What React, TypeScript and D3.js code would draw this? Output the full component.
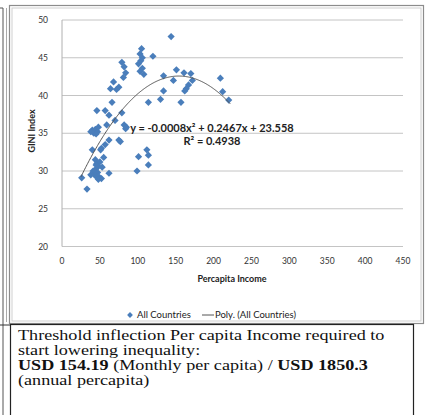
import React from "react";
import * as d3 from "d3";

const W = 426;
const H = 415;

// Scatter data: [Percapita Income, GINI Index]
const incomes: number[] = [
  144, 105, 103, 120, 106, 79, 82, 101, 104, 106, 108, 84, 81, 103,
  151, 161, 170, 134, 147, 172, 167, 164, 162, 209, 212, 220,
  134, 130, 114, 157, 68, 75, 64, 72, 66, 57, 62, 46, 79, 70, 59, 82, 84, 85,
  40, 44, 47, 42, 48, 45, 38,
  75, 77, 62, 57, 52, 40, 51, 55,
  101, 112, 114, 114, 99,
  44, 46, 48, 50, 44, 47, 43, 49, 52, 45, 41, 53,
  26, 33, 62, 46, 48, 38,
];
const ginis: number[] = [
  47.8, 46.2, 45.5, 45.2, 45.0, 44.4, 43.8, 44.2, 44.6, 43.6, 42.8, 43.0, 42.4, 43.2,
  43.4, 43.0, 42.9, 42.6, 42.0, 42.0, 41.4, 40.9, 40.6, 42.3, 40.5, 39.4,
  40.6, 39.5, 39.1, 39.1, 41.8, 41.1, 40.9, 40.8, 39.1, 38.0, 37.4, 38.0, 37.7, 36.7, 36.1, 36.1, 35.6, 35.8,
  35.4, 35.5, 35.2, 35.0, 35.8, 34.9, 35.2,
  34.1, 33.9, 34.1, 33.5, 33.0, 32.8, 32.8, 31.8,
  31.9, 32.8, 32.1, 30.8, 30.0,
  31.5, 31.0, 30.6, 31.2, 30.2, 29.8, 29.5, 29.2, 29.0, 30.8, 30.0, 30.5,
  29.1, 27.6, 29.7, 29.2, 28.9, 29.5,
];

// Polynomial trendline coefficients (a x^2 + b x + c) and range
const polyCoef: number[] = [-0.0008, 0.2467, 23.558];
const trendRange: number[] = [25, 222];

const xTicks: number[] = [0, 50, 100, 150, 200, 250, 300, 350, 400, 450];
const yTicks: number[] = [20, 25, 30, 35, 40, 45, 50];

const textLines: { parts: { t: string; b: boolean }[] }[] = [
  { parts: [{ t: "Threshold inflection Per capita Income required to", b: false }] },
  { parts: [{ t: "start lowering inequality:", b: false }] },
  {
    parts: [
      { t: "USD 154.19", b: true },
      { t: " (Monthly per capita) / ", b: false },
      { t: "USD 1850.3", b: true },
    ],
  },
  { parts: [{ t: "(annual percapita)", b: false }] },
];

const sans = "Lato, 'Open Sans', sans-serif";
const serif = "'Liberation Serif', 'Times New Roman', serif";

export default function App() {
  const x = d3.scaleLinear().domain([0, 450]).range([62, 403]);
  const y = d3.scaleLinear().domain([20, 50]).range([246.5, 20]);

  const points = incomes.map((v, i) => [v, ginis[i]] as [number, number]);
  const diamond = d3.symbol().type(d3.symbolSquare).size(26)() as string;

  const poly = (v: number) => polyCoef[0] * v * v + polyCoef[1] * v + polyCoef[2];
  const trendXs = d3.range(trendRange[0], trendRange[1] + 0.5, 1);
  const trendPath = d3
    .line<number>()
    .x((v) => x(v))
    .y((v) => y(poly(v)))(trendXs) as string;

  return (
    <svg
      width={W}
      height={H}
      style={{ position: "absolute", left: 0, top: 0, background: "#fff" }}
    >
      <rect x={0} y={0} width={W} height={H} fill="#fff" />
      {/* left side page edge lines */}
      <line x1={3} y1={8} x2={3} y2={415} stroke="#555" strokeWidth={1} />
      <line x1={0} y1={8} x2={3} y2={8} stroke="#555" strokeWidth={1} />
      <line x1={6.5} y1={8} x2={6.5} y2={322} stroke="#aaa" strokeWidth={1} />
      <line x1={0} y1={325} x2={10} y2={325} stroke="#333" strokeWidth={1} />

      {/* chart frame */}
      <rect x={9.5} y={5.5} width={414} height={318} fill="#fff" stroke="#8c8c8c" strokeWidth={1.2} />
      <rect x={12} y={8} width={409} height={313} fill="none" stroke="#cfcfcf" strokeWidth={1} />

      {/* gridlines */}
      {yTicks.map((t) => (
        <line key={"g" + t} x1={x(0)} x2={x(450)} y1={y(t)} y2={y(t)} stroke="#c4c4c4" strokeWidth={1} />
      ))}
      <line x1={x(0)} x2={x(0)} y1={y(50)} y2={y(20)} stroke="#b0b0b0" strokeWidth={1} />

      {/* y tick labels */}
      {yTicks.map((t) => (
        <text key={"yl" + t} x={48} y={y(t) + 3} textAnchor="end" fontFamily={sans} fontSize={8.5} fill="#333">
          {t}
        </text>
      ))}
      {/* x tick labels */}
      {xTicks.map((t) => (
        <text key={"xl" + t} x={x(t)} y={264} textAnchor="middle" fontFamily={sans} fontSize={8.5} fill="#333">
          {t}
        </text>
      ))}

      {/* axis titles */}
      <text x={232} y={282} textAnchor="middle" fontFamily={sans} fontSize={9} fontWeight="bold" fill="#222">
        Percapita Income
      </text>
      <text
        transform={`translate(35,131) rotate(-90)`}
        textAnchor="middle"
        fontFamily={sans}
        fontSize={9}
        fontWeight="bold"
        fill="#222"
      >
        GINI Index
      </text>

      {/* scatter points */}
      {points.map((p, i) => (
        <path
          key={"p" + i}
          d={diamond}
          transform={`translate(${x(p[0])},${y(p[1])}) rotate(45)`}
          fill="#4a7ebb"
        />
      ))}

      {/* trendline */}
      <path d={trendPath} fill="none" stroke="#555" strokeWidth={1} />

      {/* equation */}
      <text x={212} y={132} textAnchor="middle" fontFamily={sans} fontSize={11} fontWeight="bold" fill="#222">
        y = -0.0008x² + 0.2467x + 23.558
      </text>
      <text x={212} y={145} textAnchor="middle" fontFamily={sans} fontSize={11} fontWeight="bold" fill="#222">
        R² = 0.4938
      </text>

      {/* legend */}
      <path d={diamond} transform={`translate(130,315) rotate(45) scale(0.8)`} fill="#4a7ebb" />
      <text x={137} y={318} fontFamily={sans} fontSize={9.5} fill="#222">
        All Countries
      </text>
      <line x1={202} x2={214} y1={315} y2={315} stroke="#555" strokeWidth={1} />
      <text x={215} y={318} fontFamily={sans} fontSize={9.5} fill="#222">
        Poly. (All Countries)
      </text>

      {/* text box */}
      <rect x={10.5} y={324.5} width={403} height={100} fill="#fff" stroke="#222" strokeWidth={1.2} />
      {textLines.map((ln, i) => (
        <text
          key={"tl" + i}
          transform={`translate(18,${339.5 + i * 15}) scale(1.17,1)`}
          fontFamily={serif}
          fontSize={15.5}
          fill="#111"
        >
          {ln.parts.map((pt, j) => (
            <tspan key={j} fontWeight={pt.b ? "bold" : "normal"}>
              {pt.t}
            </tspan>
          ))}
        </text>
      ))}
    </svg>
  );
}
